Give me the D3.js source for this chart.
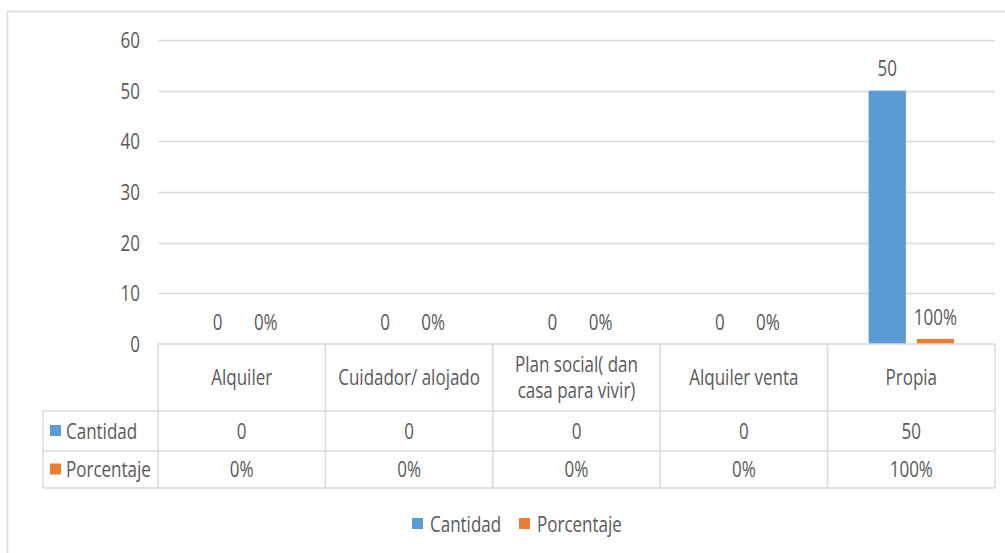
<!DOCTYPE html>
<html><head><meta charset="utf-8">
<script src="https://cdn.jsdelivr.net/npm/d3@7"></script>
<style>
body{margin:0;background:#fff;}
svg text{font-family:"Open Sans",sans-serif;fill:#595959;}
</style></head>
<body><svg id="c" width="1005" height="553"></svg>
<script>
const categories = ["Alquiler", "Cuidador/ alojado", "Plan social( dan\ncasa para vivir)", "Alquiler venta", "Propia"];
const seriesNames = ["Cantidad", "Porcentaje"];
const cantidad = [0, 0, 0, 0, 50];
const porcentaje = [0, 0, 0, 0, 1];
const cantidadLabels = ["0", "0", "0", "0", "50"];
const porcentajeLabels = ["0%", "0%", "0%", "0%", "100%"];
const yTicks = [0, 10, 20, 30, 40, 50, 60];
const colors = ["#5B9BD5", "#ED7D31"];

(function(){
const svg = d3.select("#c");
const fs = 17, sy = 1.28;
function txt(parent, x, y, str, anchor){
  return parent.append("text").attr("transform",`translate(${x},${y}) scale(1,${sy})`)
    .attr("dy","0.35em").attr("text-anchor",anchor||"start").attr("font-size",fs).text(str);
}
svg.append("rect").attr("x",7.5).attr("y",11.5).attr("width",1010).attr("height",560)
  .attr("fill","none").attr("stroke","#d9d9d9").attr("stroke-width",1.5);

const pLeft = 158, pRight = 995, pTop = 40, base = 344;
const x = d3.scaleBand().domain(categories).range([pLeft, pRight]).padding(0);
const y = d3.scaleLinear().domain([0, 60]).range([base, pTop]);
const bw = x.bandwidth();
const xs = d3.scaleBand().domain(seriesNames).range([bw*0.245, bw*0.755]).paddingInner(0.227).paddingOuter(0);

svg.append("g").selectAll("line").data(yTicks.filter(d=>d>0)).join("line")
  .attr("x1",pLeft).attr("x2",pRight).attr("y1",d=>Math.round(y(d))+0.5).attr("y2",d=>Math.round(y(d))+0.5)
  .attr("stroke","#d9d9d9").attr("stroke-width",1.3);

const ya = d3.axisLeft(y).tickValues(yTicks).tickSize(0).tickPadding(0);
const yg = svg.append("g").attr("transform",`translate(140,0)`).call(ya);
yg.attr("font-family",null).attr("font-size",null);
yg.select(".domain").remove();
yg.selectAll("text").attr("font-size",fs).attr("fill","#595959").attr("dy","0.35em").attr("transform",`scale(1,${sy})`);

const data = [cantidad, porcentaje];
const labels = [cantidadLabels, porcentajeLabels];
seriesNames.forEach((s,si)=>{
  const g = svg.append("g");
  g.selectAll("rect").data(categories).join("rect")
    .attr("x",c=>x(c)+xs(s)).attr("width",xs.bandwidth())
    .attr("y",(c,i)=>y(data[si][i])).attr("height",(c,i)=>base - y(data[si][i]))
    .attr("fill",colors[si]);
  categories.forEach((c,i)=>{
    txt(g, x(c)+xs(s)+xs.bandwidth()/2, y(data[si][i]) - 22, labels[si][i], "middle");
  });
});

const rowTop = base, r1 = 411, r2 = 451, r3 = 488, tl = 43;
const tg = svg.append("g").attr("stroke","#d9d9d9").attr("stroke-width",1.5);
tg.append("line").attr("x1",pLeft).attr("x2",pRight).attr("y1",rowTop).attr("y2",rowTop);
[r1,r2,r3].forEach(yy=>tg.append("line").attr("x1",tl).attr("x2",pRight).attr("y1",yy).attr("y2",yy));
tg.append("line").attr("x1",tl).attr("x2",tl).attr("y1",r1).attr("y2",r3);
x.domain().forEach(c=>tg.append("line").attr("x1",x(c)).attr("x2",x(c)).attr("y1",rowTop).attr("y2",r3));
tg.append("line").attr("x1",pRight).attr("x2",pRight).attr("y1",rowTop).attr("y2",r3);

categories.forEach(c=>{
  const lines = c.split("\n");
  const cy = (rowTop + r1)/2;
  const t = svg.append("text").attr("transform",`translate(${x(c)+bw/2},${cy}) scale(1,${sy})`)
    .attr("text-anchor","middle").attr("font-size",fs);
  lines.forEach((ln,k)=>{
    t.append("tspan").attr("x",0).attr("y",(k - (lines.length-1)/2)*26/sy).attr("dy","0.35em").text(ln);
  });
});
const rows = [[r1,r2],[r2,r3]];
seriesNames.forEach((s,si)=>{
  const cy = (rows[si][0]+rows[si][1])/2;
  svg.append("rect").attr("x",50).attr("y",cy-6).attr("width",11).attr("height",11).attr("fill",colors[si]);
  txt(svg, 66, cy, s);
  categories.forEach((c,i)=>{
    txt(svg, x(c)+bw/2, cy, labels[si][i], "middle");
  });
});

const lg = svg.append("g");
const legX = [412, 519];
seriesNames.forEach((s,si)=>{
  lg.append("rect").attr("x",legX[si]).attr("y",518).attr("width",11).attr("height",11).attr("fill",colors[si]);
  txt(lg, legX[si]+18, 524, s);
});
})();
</script></body></html>
